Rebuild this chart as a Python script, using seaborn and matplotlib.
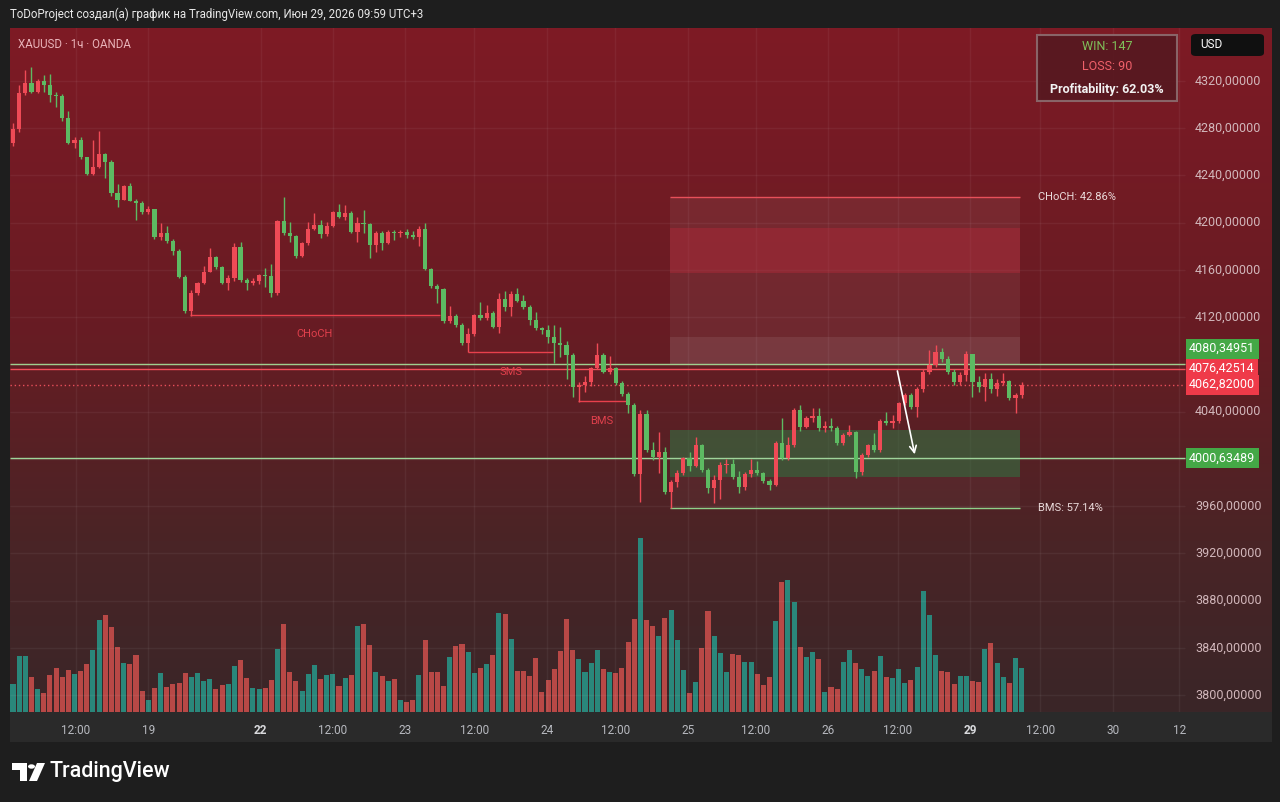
import numpy as np
import pandas as pd
import seaborn as sns
import matplotlib.pyplot as plt
from matplotlib.patches import Rectangle, Polygon, Circle, FancyBboxPatch
from matplotlib.transforms import blended_transform_factory
from matplotlib.colors import LinearSegmentedColormap

# XAUUSD 1h candles
first_open = 4267.3
closes = [4279.4, 4309.6, 4318.6, 4311, 4320.3, 4316.6, 4308, 4307.3, 4288.4, 4267.3,
          4270, 4255.4, 4241, 4247.4, 4258, 4251.7, 4225.4, 4219.2, 4231.1, 4218.6,
          4217, 4209, 4212, 4188.2, 4191, 4184.8, 4176.3, 4154.3, 4125.5, 4140.8,
          4148.8, 4158.5, 4170.7, 4162.3, 4149.2, 4153, 4179.7, 4151.5, 4149, 4151,
          4155.7, 4155, 4140.2, 4201.5, 4191, 4188.8, 4171.8, 4182.6, 4194.4, 4198,
          4190.2, 4197.5, 4209.3, 4205, 4208, 4192.4, 4200, 4198.7, 4181.1, 4191,
          4182.6, 4192.4, 4191, 4192.4, 4189.5, 4187.7, 4194.4, 4160.6, 4146.4, 4143.6,
          4117, 4121, 4113.4, 4097.9, 4105.8, 4121.9, 4119.1, 4123.3, 4112, 4135.4,
          4129, 4139.4, 4134, 4128.4, 4117.6, 4110.6, 4109.4, 4103.5, 4097.9, 4096.4,
          4088, 4060.6, 4063, 4065, 4076.8, 4088, 4074, 4076.8, 4064, 4054.7,
          4045.7, 3987, 4038, 4007.6, 4002, 4006, 3972.3, 3980.7, 3987.9, 4000.5,
          3994, 4011.8, 3990.6, 3975.1, 3982.2, 3994.9, 3996, 3985, 3976, 3987,
          3990.6, 3988, 3981, 3978.3, 4013.3, 4000.5, 4011.8, 4041.4, 4027.4, 4034.4,
          4036, 4026, 4028, 4026, 4013.3, 4020.3, 4023, 3989.2, 4003.3, 4011.8,
          4007.6, 4032.4, 4030, 4032, 4047.6, 4054.1, 4044.2, 4058.9, 4073.9, 4079.5,
          4090.8, 4084.4, 4073.9, 4065.3, 4071, 4089, 4065.3, 4061, 4068, 4059,
          4064, 4066, 4051.4, 4054, 4062.8]
highs = [4284.7, 4316.6, 4329.3, 4331.9, 4322, 4325, 4326, 4311, 4309, 4295,
         4273, 4273, 4256, 4270, 4278, 4259, 4253, 4233, 4232, 4234,
         4220, 4218, 4214, 4212, 4199.5, 4197, 4186, 4178, 4156, 4143,
         4150, 4163, 4178.6, 4172, 4163, 4155.7, 4183, 4183.5, 4153, 4153,
         4157, 4162, 4165, 4202, 4222, 4201, 4190, 4184, 4201, 4208,
         4202, 4201, 4210, 4215.8, 4215, 4210, 4205, 4210.8, 4200, 4193,
         4193, 4194, 4194, 4194, 4195, 4193, 4197, 4199.5, 4162, 4148,
         4145, 4129.5, 4123, 4115, 4110.6, 4123, 4133, 4130, 4125, 4140.2,
         4142, 4142, 4144.5, 4139, 4130, 4124, 4112, 4113, 4113, 4112,
         4100, 4090, 4065, 4070, 4078, 4098, 4090, 4087, 4078, 4066,
         4057, 4047, 4041.4, 4041.4, 4014.6, 4023, 4010, 3982, 3991, 4002,
         4006, 4018.8, 4013, 3992, 3986, 3997, 4000, 4000, 3990, 3989,
         4000, 3998, 3989, 3983, 4015, 4034.4, 4018.8, 4043, 4045.7, 4036,
         4042.8, 4043, 4032, 4035, 4028, 4022, 4028.8, 4024, 4005, 4013,
         4021.7, 4034, 4040, 4037, 4048, 4056, 4056, 4061, 4076, 4092.2,
         4096.5, 4094, 4087, 4076, 4074, 4091, 4083.8, 4070, 4073, 4073,
         4068, 4073, 4067, 4055.5, 4065]
lows = [4265, 4277, 4308, 4310, 4310, 4311, 4302.5, 4298, 4286, 4267,
        4263, 4254, 4240, 4240.4, 4246, 4237.6, 4223, 4213.6, 4219, 4218,
        4202, 4207, 4207, 4186, 4185, 4183, 4172.7, 4153, 4123.3, 4121,
        4139, 4148, 4158, 4161, 4148, 4143, 4151, 4150, 4143, 4147,
        4148, 4146, 4137, 4139, 4189.5, 4184, 4170, 4171, 4181, 4194,
        4187, 4189, 4196, 4203.6, 4202, 4191, 4184, 4191, 4170, 4175,
        4177, 4182, 4185, 4188, 4187, 4186, 4180, 4160, 4145, 4131.8,
        4114.9, 4115, 4112, 4096.4, 4090.8, 4104, 4118, 4118, 4111, 4106.4,
        4125, 4121, 4133, 4127, 4113.4, 4109.5, 4106, 4098, 4081, 4086,
        4068, 4052.7, 4048.4, 4057, 4062, 4076, 4073, 4072, 4063, 4053,
        4038.6, 3985.5, 3963.8, 4006, 3999, 3987.8, 3970, 3958.2, 3976, 3986,
        3990, 3993, 3989, 3971, 3962.4, 3966, 3988, 3983, 3971, 3974,
        3985, 3986, 3980, 3974, 3977, 3999, 3999, 4010, 4024, 4026,
        4031, 4024, 4023, 4024, 4012, 4012, 4019, 3983.6, 3986, 4002,
        4006, 4006, 4028.5, 4026, 4030, 4046, 4042, 4035.8, 4057, 4072,
        4078, 4082, 4072, 4063, 4063, 4066, 4052.7, 4057, 4049, 4056,
        4053, 4063, 4050, 4038.6, 4052]
volumes = [28.3, 56, 56, 35.3, 22.7, 19.3, 36.7, 44.3, 35.3, 41.7,
           37.7, 41, 48.3, 62, 92, 96.7, 85.3, 65.3, 48.7, 47.7,
           56.7, 21, 11.7, 24.3, 39.3, 25.3, 27.7, 29.3, 38.7, 35.3,
           39.3, 31, 33.3, 23.3, 27, 27.7, 46, 51.7, 34.3, 23.7,
           22.7, 24.3, 31.7, 63.3, 87.7, 40, 31, 21, 37.7, 46.7,
           33.3, 36.7, 37.7, 26, 33.7, 36.7, 86, 87.7, 66.7, 40,
           36, 31, 33.3, 11.7, 10.3, 11.7, 37, 71.7, 40, 40.3,
           26, 55, 66, 68.3, 60, 39.3, 44.3, 47.7, 56.7, 98.7,
           97.7, 72.7, 41, 41.5, 36.5, 54, 19.6, 32.4, 43.2, 60.8,
           93.2, 61.8, 53.4, 40.5, 49.3, 61.8, 42.6, 39.9, 39.2, 43.9,
           69.6, 93.2, 174, 92.2, 86.1, 76.4, 93.9, 102.4, 72, 41.6,
           18.6, 29.7, 64.5, 101.4, 76.4, 59.1, 39.9, 57.8, 57.4, 50,
           50, 38.2, 27.4, 35.5, 91.2, 130.4, 132.1, 110.1, 65.5, 55.4,
           60.1, 52.7, 19.6, 25.3, 23, 50, 61.8, 49.3, 43.2, 36.5,
           40.9, 56.1, 34.8, 34.5, 43.2, 29.1, 32.1, 44.9, 121, 96.6,
           57.4, 40.9, 39.9, 28, 36.5, 36.5, 31.4, 29.7, 63.5, 69.3,
           49, 34.8, 29.1, 54, 43.9]

tick_pos = [10.2, 22.0, 40.3, 52.0, 63.7, 75.0, 86.8, 97.9, 109.8, 120.8,
            132.5, 143.9, 155.6, 167.0, 178.9, 189.6]
tick_labels = ["12:00", "19", "22", "12:00", "23", "12:00", "24", "12:00", "25", "12:00",
               "26", "12:00", "29", "12:00", "30", "12"]
bold_ticks = ["22", "29"]
price_labels = [4320, 4280, 4240, 4200, 4160, 4120, 4040, 3960, 3920, 3880, 3840, 3800]
grid_prices = [3800, 3840, 3880, 3920, 3960, 4000, 4040, 4080, 4120, 4160, 4200, 4240, 4280, 4320]

# structure marks
choch = (4121.9, 28.8, 69.4)
sms = (4090.8, 74.0, 87.8)
bms = (4049.3, 91.9, 99.7)

# position tool
box_x = (106.8, 163.7)
box_top = 4221.8
box_bottom = 3958.5
box_red = (4157.4, 4195.5)
box_light = (4080.4, 4103.3)
box_green = (3984.7, 4024.5)

level_green_hi = 4080.34951
level_red = 4076.42514
last_price = 4062.82
level_green_lo = 4000.63489
arrow_from = (143.7, 4076.8)
arrow_to = (146.7, 4001.6)

W, H = 1280, 802
def fx(px):
    return px / W
def fy(py):
    return 1 - py / H

sns.set_theme(style="dark")
plt.rcParams['font.family'] = ['Roboto', 'DejaVu Sans']

fig = plt.figure(figsize=(12.8, 8.02), dpi=100, facecolor='#1e1e1e')
ax = fig.add_axes([fx(10), fy(712), (1272 - 10) / W, 684 / H])
ax2 = ax.twinx()
ax.set_zorder(2)
ax2.set_zorder(1)
ax.patch.set_visible(False)

# background gradient
cmap = LinearSegmentedColormap.from_list(
    'bg', [(0, '#7e1a25'), (0.45, '#671c23'), (0.75, '#4a2426'), (1, '#3a2628')])
grad = np.linspace(0, 1, 256).reshape(-1, 1)
ax2.imshow(grad, cmap=cmap, aspect='auto', extent=[0, 1, 0, 1],
           transform=ax2.transAxes, zorder=-10)

idx = np.arange(len(closes))
closes = np.array(closes)
opens = np.r_[first_open, closes[:-1]]
up = closes >= opens

# volume
vol_df = pd.DataFrame({'bar': idx, 'volume': volumes,
                       'dir': np.where(up, 'up', 'down')})
sns.barplot(data=vol_df, x='bar', y='volume', hue='dir',
            palette={'up': '#2a877b', 'down': '#b84846'},
            native_scale=True, dodge=False, width=0.82, saturation=1,
            legend=False, errorbar=None, linewidth=0, ax=ax2)
ax2.set_ylim(0, 684)
ax2.set_yticks([])
ax2.set_xlabel('')
ax2.set_ylabel('')

# grid
x_right = 190.6
ax.hlines(grid_prices, -0.5, x_right, colors='white', alpha=0.05, lw=1, zorder=0)
ax.vlines(tick_pos, 3700, 4400, colors='white', alpha=0.05, lw=1, zorder=0)

# position tool
bw = box_x[1] - box_x[0]
ax.add_patch(Rectangle((box_x[0], box_light[1]), bw, box_top - box_light[1],
                       fc='white', alpha=0.06, lw=0, zorder=1))
ax.add_patch(Rectangle((box_x[0], box_red[0]), bw, box_red[1] - box_red[0],
                       fc='#b82a3a', alpha=0.4, lw=0, zorder=1))
ax.add_patch(Rectangle((box_x[0], box_light[0]), bw, box_light[1] - box_light[0],
                       fc='white', alpha=0.13, lw=0, zorder=1))
ax.add_patch(Rectangle((box_x[0], box_green[0]), bw, box_green[1] - box_green[0],
                       fc='#2e8048', alpha=0.5, lw=0, zorder=1))
ax.add_patch(Rectangle((box_x[0], box_bottom), bw, box_green[0] - box_bottom,
                       fc='white', alpha=0.03, lw=0, zorder=1))
ax.hlines(box_top, *box_x, colors='#e8505a', lw=1, zorder=2)
ax.hlines(box_bottom, *box_x, colors='#8fd08a', lw=1, zorder=2)
ax.text(box_x[1] + 3, box_top, 'CHoCH: 42.86%', color='#eadada', fontsize=8,
        va='center', ha='left', zorder=6)
ax.text(box_x[1] + 3, box_bottom, 'BMS: 57.14%', color='#eadada', fontsize=8,
        va='center', ha='left', zorder=6)

# structure lines
for (lvl, x0, x1), name, ty in [(choch, 'CHoCH', 4105.5), (sms, 'SMS', 4074.0), (bms, 'BMS', 4032.5)]:
    ax.hlines(lvl, x0, x1, colors='#e8404c', lw=1, zorder=2)
    ax.text((x0 + x1) / 2, ty, name, color='#e0404c', fontsize=8,
            ha='center', va='center', zorder=6)

# horizontal levels
ax.hlines(level_green_hi, -0.5, x_right, colors='#9fcf8f', lw=1, zorder=2)
ax.hlines(level_red, -0.5, x_right, colors='#ef4f5a', lw=1, zorder=2)
ax.hlines(last_price, -0.5, x_right, colors='#e8505a', lw=1, linestyles=(0, (1, 2)), zorder=2)
ax.hlines(level_green_lo, -0.5, x_right, colors='#9fd49a', lw=1, zorder=2)

# candles
colors = np.where(up, '#ef4a56', '#5dba62')
ax.vlines(idx, lows, highs, colors=colors, lw=1, zorder=3)
body_lo = np.minimum(opens, closes)
body_h = np.maximum(np.abs(closes - opens), 0.9)
ax.bar(idx, body_h, bottom=body_lo, width=0.68, color=colors, linewidth=0, zorder=4)

# arrow
ax.annotate('', xy=arrow_to, xytext=arrow_from,
            arrowprops=dict(arrowstyle='->', color='white', lw=1.2,
                            mutation_scale=12), zorder=7)

ax.set_xlim(-0.49, 204.7)
ax.set_ylim(3785.7, 4364.9)
ax2.set_xlim(-0.49, 204.7)
ax.set_yticks([])
ax.set_xticks(tick_pos)
ax.set_xticklabels(tick_labels)
ax.tick_params(axis='x', length=0, pad=9, labelsize=8.5, colors='#b7b9bf')
for lab in ax.get_xticklabels():
    if lab.get_text() in bold_ticks:
        lab.set_fontweight('bold')
        lab.set_color('#d9dadd')
for sp in list(ax.spines.values()) + list(ax2.spines.values()):
    sp.set_visible(False)

# price scale labels
trans = blended_transform_factory(ax.transAxes, ax.transData)
lab_x = (1195 - 10) / 1262
for p in price_labels:
    ax.text(lab_x, p, f'{p},00000', transform=trans, color='#d2b7bb',
            fontsize=9, va='center', ha='left', zorder=6)

tag_x = (1189 - 10) / 1262
def tag(price, text, fc, dy=0):
    ax.annotate(text, xy=(tag_x, price), xycoords=trans, xytext=(0, dy),
                textcoords='offset points', color='white', fontsize=9,
                va='center', ha='left', zorder=8,
                bbox=dict(boxstyle='square,pad=0.28', fc=fc, ec='none'))
tag(level_red, '4076,42514', '#ef3a49')
tag(last_price, '4062,82000', '#ef3a49')
tag(level_green_hi, '4080,34951', '#44a846', dy=11)
tag(level_green_lo, '4000,63489', '#44a846')

# time axis strip, header
fig.add_artist(Rectangle((fx(10), fy(742)), (1272 - 10) / W, 30 / H,
                         transform=fig.transFigure, fc='#2a2a2a', ec='none', zorder=-1))
fig.text(fx(10), fy(14), 'ToDoProject создал(а) график на TradingView.com, Июн 29, 2026 09:59 UTC+3',
         color='#e8e8e8', fontsize=8.3, va='center', ha='left')
fig.text(fx(18), fy(44), 'XAUUSD · 1ч · OANDA', color='#e9b3b9', fontsize=8.3,
         va='center', ha='left', zorder=10)

# stats box
fig.add_artist(Rectangle((fx(1037), fy(101)), 140 / W, 66 / H, transform=fig.transFigure,
                         fc='#561820', ec='#8d6d70', lw=1.5, alpha=0.9, zorder=10))
fig.text(fx(1107), fy(46), 'WIN: 147', color='#7fbf5a', fontsize=9, ha='center', va='center', zorder=11)
fig.text(fx(1107), fy(67), 'LOSS: 90', color='#f0606a', fontsize=9, ha='center', va='center', zorder=11)
fig.text(fx(1107), fy(89), 'Profitability: 62.03%', color='#f2f2f2', fontsize=9,
         fontweight='semibold', ha='center', va='center', zorder=11)

# USD box
fig.add_artist(FancyBboxPatch((fx(1191), fy(56)), 73 / W, 22 / H, transform=fig.transFigure,
                              boxstyle='round,pad=0,rounding_size=0.004', fc='#101010',
                              ec='none', zorder=10))
fig.text(fx(1200), fy(44.5), 'USD', color='white', fontsize=8.5, ha='left', va='center', zorder=11)

# TradingView logo
pts = lambda P: [(fx(x), fy(y)) for x, y in P]
fig.add_artist(Polygon(pts([(12, 763), (27, 763), (27, 781), (20, 781), (20, 770), (12, 770)]),
                       closed=True, transform=fig.transFigure, fc='white', ec='none'))
fig.add_artist(Circle((fx(31.5), fy(766.5)), 3.5 / W, transform=fig.transFigure,
                      fc='white', ec='none'))
fig.add_artist(Polygon(pts([(37, 763), (45, 763), (37, 781), (29, 781)]), closed=True,
                       transform=fig.transFigure, fc='white', ec='none'))
fig.text(fx(50), fy(772), 'TradingView', color='white', fontsize=15.5,
         fontweight='medium', ha='left', va='center')

fig.savefig('out.png', dpi=100, facecolor=fig.get_facecolor())
